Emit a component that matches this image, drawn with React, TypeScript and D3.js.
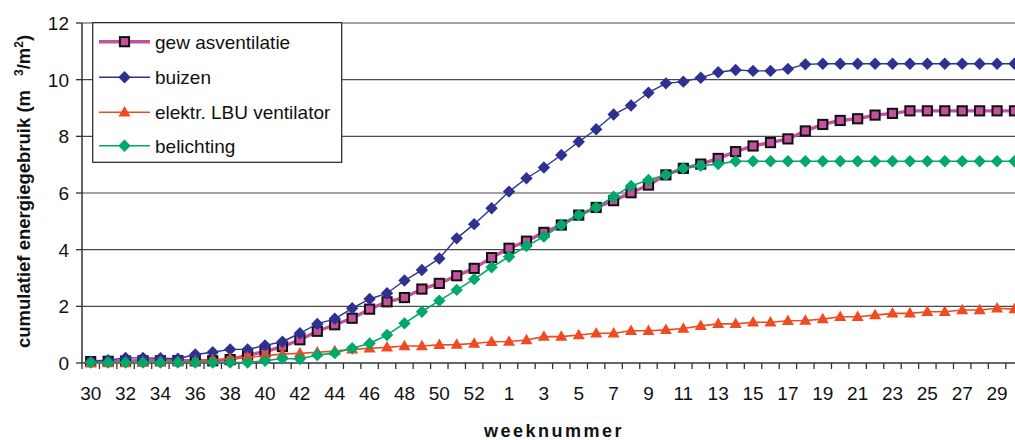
import React from "react";
import * as d3 from "d3";

const weeks: string[] = [
  "30","31","32","33","34","35","36","37","38","39","40","41","42","43","44","45","46","47","48","49","50","51","52","53",
  "1","2","3","4","5","6","7","8","9","10","11","12","13","14","15","16","17","18","19","20","21","22","23","24","25","26","27","28","29","30b",
];
const weekLabels: string[] = weeks.map((w) => w.replace("b", ""));

const gewasventilatie: number[] = [
  0.05, 0.06, 0.07, 0.08, 0.08, 0.08, 0.08, 0.08, 0.12, 0.28, 0.4, 0.58, 0.82, 1.12, 1.35, 1.58, 1.9, 2.16, 2.31, 2.61,
  2.81, 3.08, 3.34, 3.72, 4.05, 4.3, 4.61, 4.87, 5.22, 5.49, 5.73, 6.01, 6.28, 6.64, 6.87, 7.02, 7.22, 7.46, 7.66, 7.78,
  7.91, 8.19, 8.42, 8.56, 8.62, 8.75, 8.81, 8.9, 8.9, 8.9, 8.9, 8.9, 8.9, 8.9,
];
const buizen: number[] = [
  0.05, 0.1, 0.18, 0.18, 0.17, 0.15, 0.3, 0.38, 0.48, 0.48, 0.62, 0.75, 1.05, 1.38, 1.56, 1.93, 2.26, 2.46, 2.91, 3.28,
  3.69, 4.4, 4.9, 5.46, 6.05, 6.52, 6.9, 7.34, 7.81, 8.25, 8.77, 9.09, 9.54, 9.87, 9.93, 10.07, 10.26, 10.34, 10.31, 10.31,
  10.38, 10.54, 10.56, 10.56, 10.56, 10.56, 10.56, 10.56, 10.56, 10.56, 10.56, 10.56, 10.56, 10.56,
];
const elektrLBU: number[] = [
  0.0, 0.0, 0.0, 0.02, 0.03, 0.04, 0.06, 0.1, 0.15, 0.2, 0.25, 0.32, 0.34, 0.38, 0.42, 0.48, 0.52, 0.55, 0.6, 0.6,
  0.64, 0.65, 0.69, 0.75, 0.76, 0.81, 0.93, 0.93, 0.99, 1.05, 1.05, 1.14, 1.14, 1.17, 1.22, 1.31, 1.38, 1.38, 1.44, 1.44,
  1.49, 1.5, 1.55, 1.63, 1.63, 1.69, 1.75, 1.75, 1.81, 1.81, 1.87, 1.87, 1.93, 1.9,
];
const belichting: number[] = [
  0.02, 0.02, 0.02, 0.02, 0.02, 0.02, 0.02, 0.02, 0.02, 0.02, 0.08, 0.16, 0.14, 0.28, 0.35, 0.52, 0.69, 0.99, 1.4, 1.81,
  2.2, 2.58, 2.96, 3.38, 3.75, 4.13, 4.46, 4.87, 5.22, 5.49, 5.87, 6.25, 6.46, 6.64, 6.87, 6.96, 7.02, 7.12, 7.12, 7.12,
  7.12, 7.12, 7.12, 7.12, 7.12, 7.12, 7.12, 7.12, 7.12, 7.12, 7.12, 7.12, 7.12, 7.12,
];
const yTicks: number[] = [0, 2, 4, 6, 8, 10, 12];
const legendLabels: string[] = ["gew asventilatie", "buizen", "elektr. LBU ventilator", "belichting"];

const FONT = "'Liberation Sans', Arial, sans-serif";
const W = 1015;
const H = 440;
const left = 82;
const step = 17.43;
const top = 23;
const bottom = 363;

type Marker = "square" | "diamond" | "triangle";
interface Series {
  name: string;
  values: number[];
  color: string;
  lineWidth: number;
  marker: Marker;
  fill: string;
  stroke: string;
}

const series: Series[] = [
  { name: legendLabels[0], values: gewasventilatie, color: "#C4519C", lineWidth: 3.4, marker: "square", fill: "#C4519C", stroke: "#111" },
  { name: legendLabels[1], values: buizen, color: "#2E3192", lineWidth: 1.4, marker: "diamond", fill: "#2E3192", stroke: "none" },
  { name: legendLabels[2], values: elektrLBU, color: "#F04A23", lineWidth: 1.6, marker: "triangle", fill: "#F04A23", stroke: "none" },
  { name: legendLabels[3], values: belichting, color: "#00A86B", lineWidth: 1.6, marker: "diamond", fill: "#00A86B", stroke: "none" },
];

function MarkerShape({ s, x, y }: { s: Series; x: number; y: number }) {
  if (s.marker === "square") {
    return <rect x={x - 4.6} y={y - 4.6} width={9.2} height={9.2} fill={s.fill} stroke={s.stroke} strokeWidth={2} />;
  }
  if (s.marker === "diamond") {
    const r = 6.2;
    return <path d={`M${x},${y - r}L${x + r},${y}L${x},${y + r}L${x - r},${y}Z`} fill={s.fill} />;
  }
  const h = 10.5;
  const w = 6;
  return <path d={`M${x},${y - h * 0.6}L${x + w},${y + h * 0.4}L${x - w},${y + h * 0.4}Z`} fill={s.fill} />;
}

export default function App() {
  const x = d3.scaleBand<string>().domain(weeks).range([left, left + step * weeks.length]).padding(0);
  const y = d3.scaleLinear().domain([0, 12]).range([bottom, top]);
  const cx = (i: number) => (x(weeks[i]) as number) + x.bandwidth() / 2;
  const line = (vals: number[]) =>
    d3.line<number>().x((_, i) => cx(i)).y((v) => y(v))(vals) as string;

  const legendRows = [41.7, 77.3, 112.3, 145.7];

  return (
    <svg width={W} height={H} style={{ position: "absolute", left: 0, top: 0, background: "#fff" }} fontFamily={FONT}>
      <rect x={0} y={0} width={W} height={H} fill="#fff" />
      {yTicks.filter((t) => t > 0).map((t) => (
        <line key={t} x1={left} x2={W} y1={y(t)} y2={y(t)} stroke="#4a4a4a" strokeWidth={1.2} />
      ))}
      <line x1={left} x2={left} y1={top} y2={bottom} stroke="#333" strokeWidth={1.5} />
      {yTicks.map((t) => (
        <g key={t}>
          <line x1={left - 6} x2={left} y1={y(t)} y2={y(t)} stroke="#333" strokeWidth={1.3} />
          <text x={69} y={y(t) + 7} textAnchor="end" fontSize={19} fill="#111">{t}</text>
        </g>
      ))}
      <line x1={left} x2={W} y1={bottom} y2={bottom} stroke="#333" strokeWidth={1.5} />
      {d3.range(weeks.length + 1).map((k) => (
        <line key={k} x1={left + k * x.step()} x2={left + k * x.step()} y1={bottom} y2={bottom + 6} stroke="#333" strokeWidth={1.3} />
      ))}
      {weeks.map((w, i) =>
        i % 2 === 0 ? (
          <text key={w} x={cx(i)} y={400} textAnchor="middle" fontSize={19} fill="#111">{weekLabels[i]}</text>
        ) : null
      )}
      {series.map((s) => (
        <g key={s.name}>
          <path d={line(s.values)} fill="none" stroke={s.color} strokeWidth={s.lineWidth} strokeLinejoin="round" />
          {s.values.map((v, i) => (
            <MarkerShape key={i} s={s} x={cx(i)} y={y(v)} />
          ))}
        </g>
      ))}
      <rect x={92.7} y={22.7} width={249} height={139.6} fill="#fff" stroke="#222" strokeWidth={1.2} />
      {series.map((s, i) => (
        <g key={s.name}>
          <line x1={99} x2={150} y1={legendRows[i]} y2={legendRows[i]} stroke={s.color} strokeWidth={s.lineWidth} />
          <MarkerShape s={s} x={124.5} y={legendRows[i]} />
          <text x={155} y={legendRows[i] + 7} fontSize={19} fill="#111">{s.name}</text>
        </g>
      ))}
      <text transform="translate(30,348) rotate(-90)" fontSize={18.5} fontWeight="bold" fill="#111">
        <tspan>cumulatief energiegebruik (m</tspan>
        <tspan dx={14} dy={-7} fontSize={12}>3</tspan>
        <tspan dy={7}>/m</tspan>
        <tspan dy={-7} fontSize={12}>2</tspan>
        <tspan dy={7}>)</tspan>
      </text>
      <text x={554} y={437} textAnchor="middle" fontSize={18} fontWeight="bold" letterSpacing={2.5} fill="#111">weeknummer</text>
    </svg>
  );
}
